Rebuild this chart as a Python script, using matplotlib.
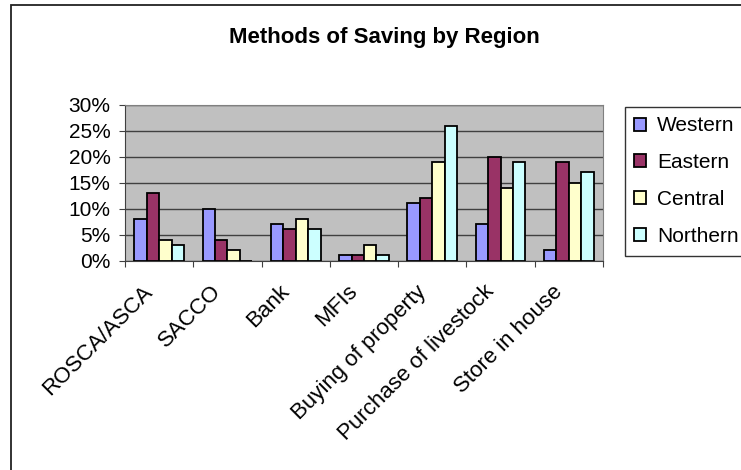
import numpy as np
import matplotlib
matplotlib.use("Agg")
import matplotlib.pyplot as plt
import matplotlib.transforms as mtransforms
from matplotlib.patches import Rectangle, Patch
from matplotlib.ticker import PercentFormatter

plt.rcParams['font.family'] = ['Liberation Sans', 'DejaVu Sans']

categories = ["ROSCA/ASCA", "SACCO", "Bank", "MFIs", "Buying of property",
              "Purchase of livestock", "Store in house"]
regions = ["Western", "Eastern", "Central", "Northern"]
western = [8, 10, 7, 1, 11, 7, 2]
eastern = [13, 4, 6, 1, 12, 20, 19]
central = [4, 2, 8, 3, 19, 14, 15]
northern = [3, 0, 6, 1, 26, 19, 17]
colors = ["#9999FF", "#993366", "#FFFFCC", "#CCFFFF"]

fig = plt.figure(figsize=(7.41, 4.70), dpi=100)
ax = fig.add_axes([125 / 741, 1 - 260.5 / 470, 478 / 741, 155.5 / 470])
ax.set_facecolor("#C0C0C0")

# outer chart border
fig.patches.append(Rectangle((11 / 741, -0.05), 1.2, 1 - 5 / 470 + 0.05,
                             transform=fig.transFigure, fill=False,
                             edgecolor="#222222", linewidth=1.3))

x = np.arange(len(categories))
w = 1 / 5.5
for i, (vals, c) in enumerate(zip([western, eastern, central, northern], colors)):
    ax.bar(x + (i - 1.5) * w, vals, width=w, color=c, edgecolor="black",
           linewidth=1.3, zorder=3)

ax.set_xlim(-0.5, len(categories) - 0.5)
ax.set_ylim(0, 30)
ax.set_yticks(range(0, 31, 5))
ax.yaxis.set_major_formatter(PercentFormatter(decimals=0))
ax.grid(axis="y", color="#404040", linewidth=1.0, zorder=1)
ax.set_axisbelow(True)

# category ticks sit between the groups
ax.set_xticks(np.arange(len(categories) + 1) - 0.5)
ax.set_xticklabels([])
ax.set_xticks(x, minor=True)
ax.set_xticklabels(categories, minor=True, rotation=45, ha="right",
                   va="baseline", rotation_mode="anchor", fontsize=16)
ax.tick_params(axis="x", which="minor", length=0, pad=23)
ax.tick_params(axis="x", which="major", length=4.5, direction="out", color="#404040")
ax.tick_params(axis="y", length=4.5, pad=6, direction="out", labelsize=15,
               color="#404040")
shift = mtransforms.ScaledTranslation(-5.5 / 100, 0, fig.dpi_scale_trans)
for lab in ax.get_xticklabels(minor=True):
    lab.set_transform(lab.get_transform() + shift)

for s in ["top", "right"]:
    ax.spines[s].set_color("#808080")
for s in ["left", "bottom"]:
    ax.spines[s].set_color("#404040")

fig.text(384 / 741, 1 - 43 / 470, "Methods of Saving by Region", ha="center",
         va="baseline", fontsize=16, fontweight="bold")

handles = [Patch(facecolor=c, edgecolor="black", linewidth=1.3) for c in colors]
leg = fig.legend(handles, regions, loc="upper left",
                 bbox_to_anchor=(625 / 741, 1 - 107 / 470), fontsize=15,
                 frameon=True, fancybox=False, handlelength=0.58,
                 handleheight=0.58, handletextpad=0.5, labelspacing=0.86,
                 borderpad=0.45, borderaxespad=0)
leg.get_frame().set_edgecolor("black")
leg.get_frame().set_linewidth(1.0)

fig.savefig("out.png", dpi=100)
